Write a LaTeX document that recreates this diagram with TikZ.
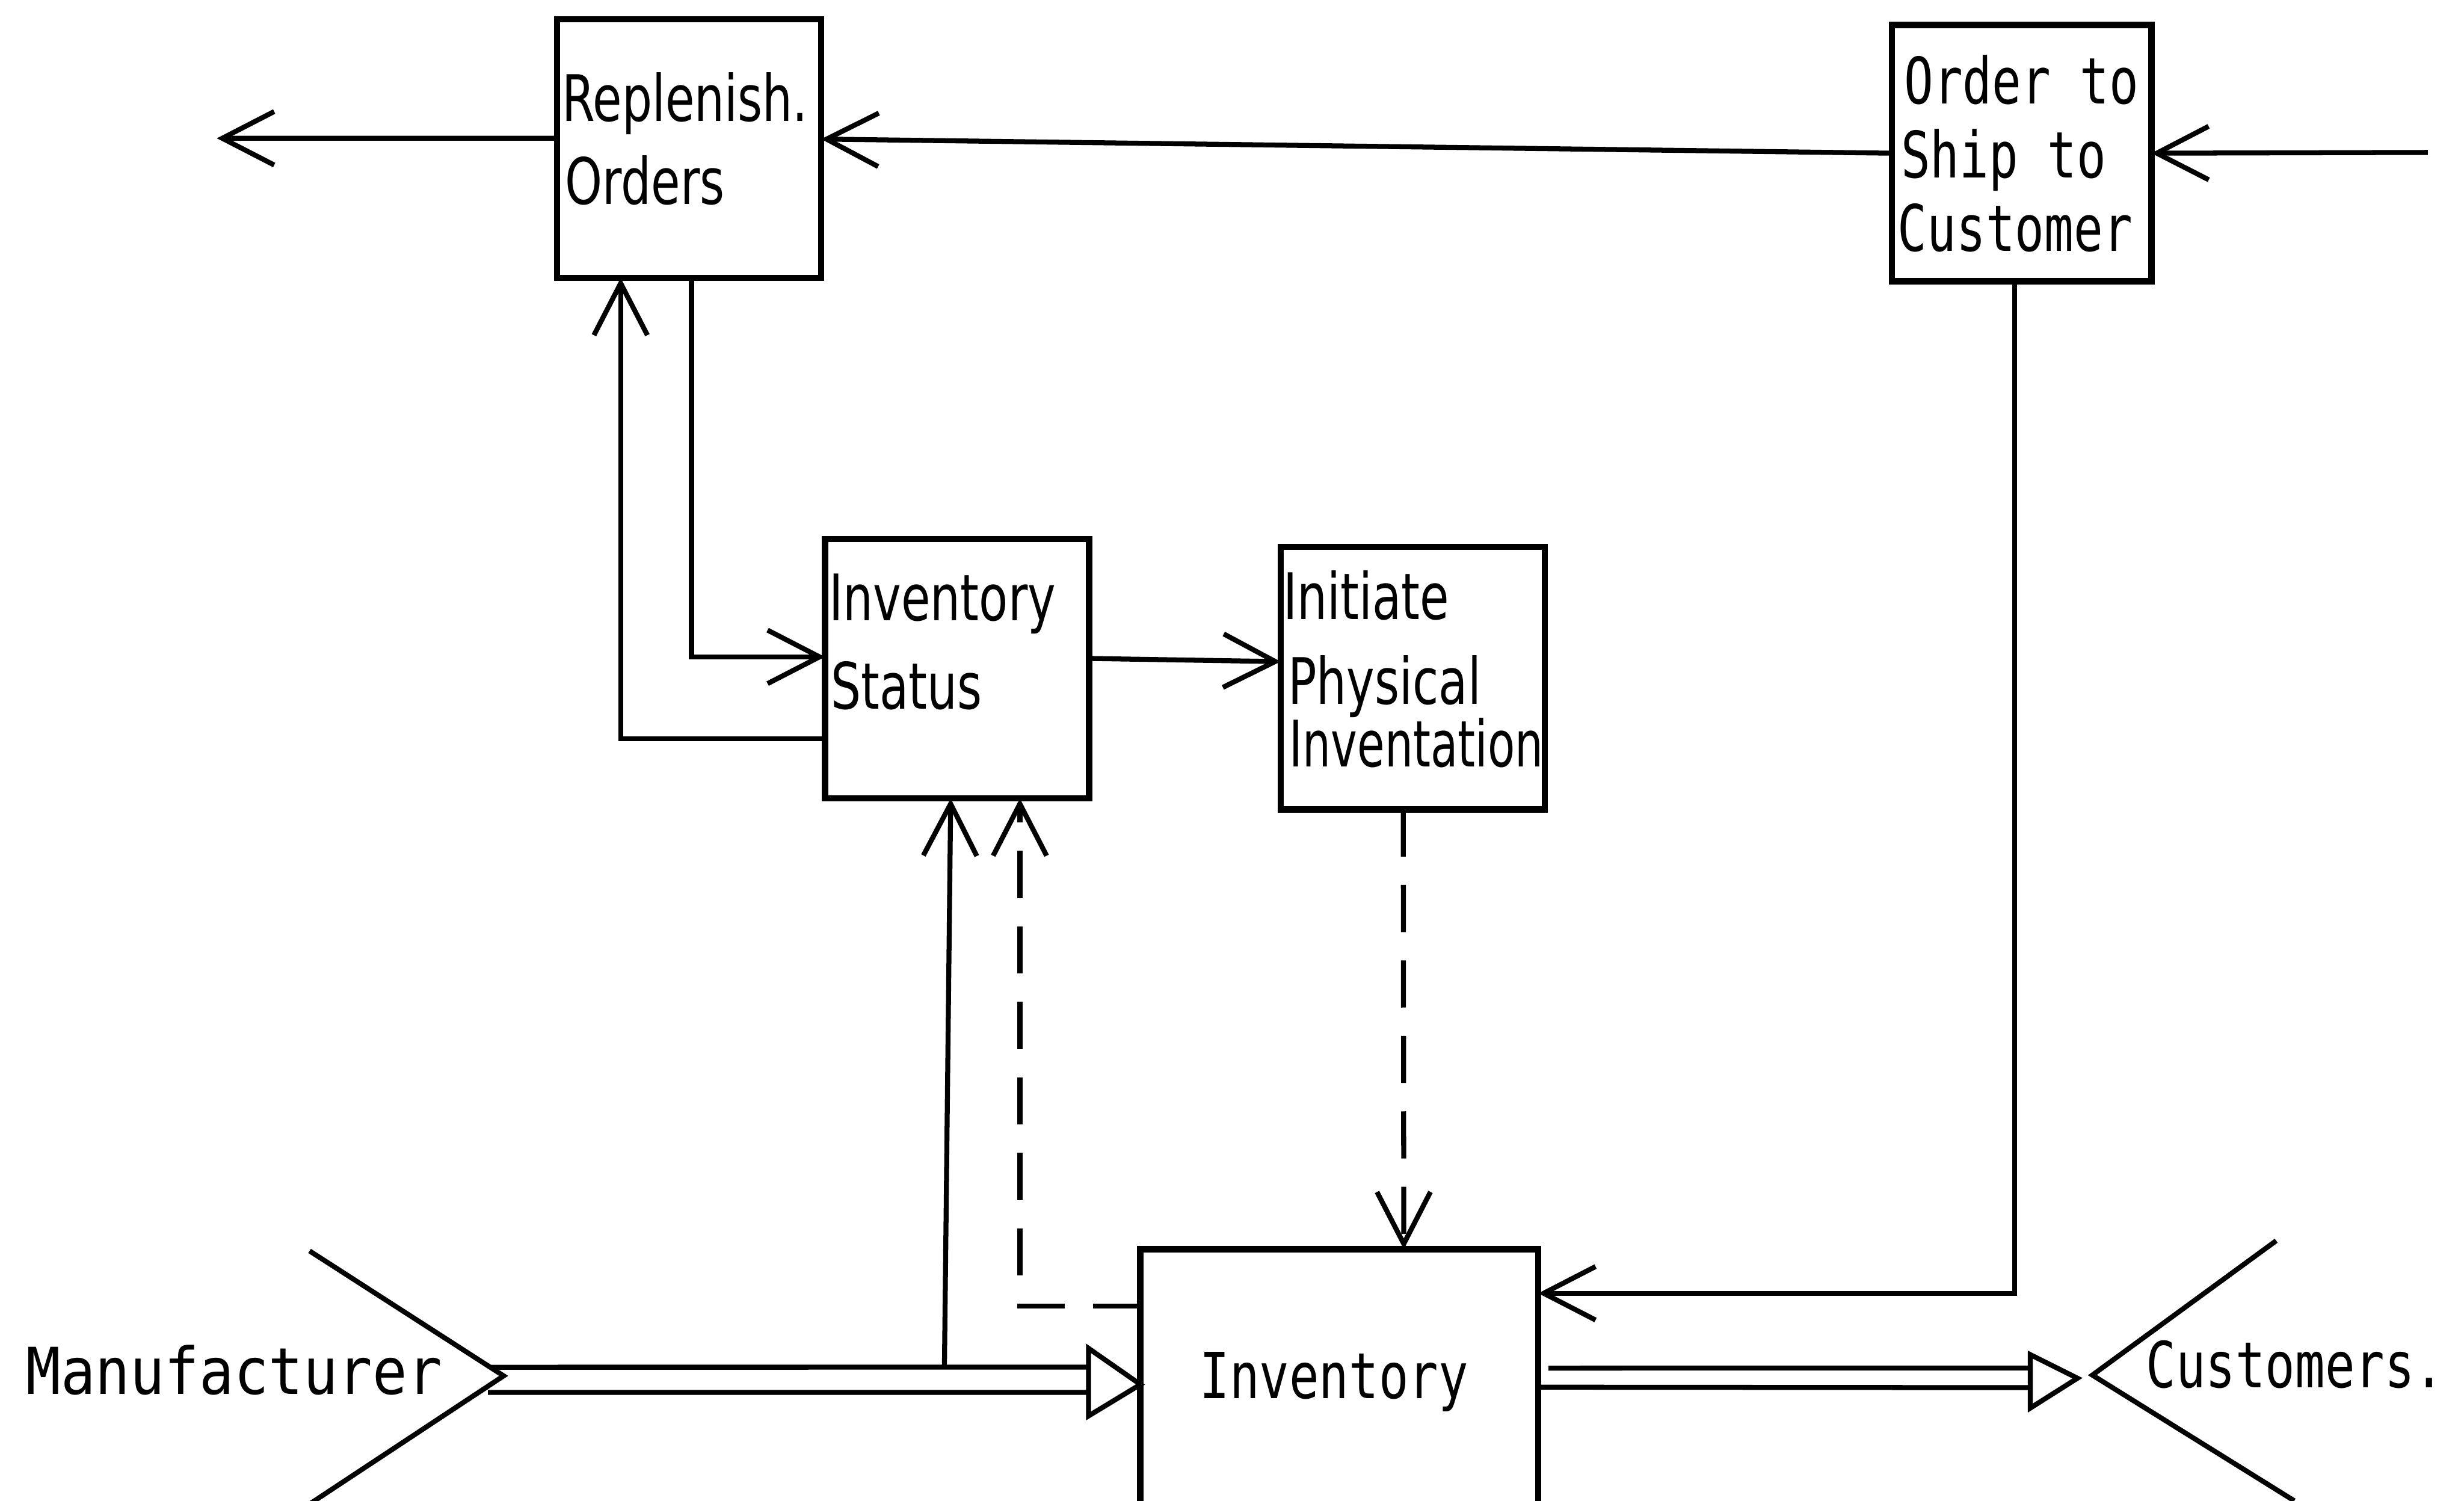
\documentclass[tikz,border=0pt]{standalone}
\usepackage{fontspec}
\setmainfont[FakeStretch=0.74]{DejaVu Sans}
\newfontfamily\narrowfont[FakeStretch=0.695]{DejaVu Sans}
\newfontfamily\manfont[FakeStretch=0.89]{DejaVu Sans Mono}
\newfontfamily\botfont[FakeStretch=0.78]{DejaVu Sans Mono}
\newfontfamily\ordfont[FakeStretch=0.76]{DejaVu Sans Mono}
\usetikzlibrary{arrows.meta,calc}
\begin{document}
\begin{tikzpicture}[x=0.01cm,y=-0.01cm,
  box/.style={draw, line width=1.15pt, inner sep=0pt, outer sep=0pt, rectangle},
  lbl/.style={inner sep=0pt, anchor=base west, font=\fontsize{11.6}{13}\selectfont},
  ordlbl/.style={inner sep=0pt, anchor=base west, font=\ordfont\fontsize{11.6}{13}\selectfont},
  botlbl/.style={inner sep=0pt, font=\botfont\fontsize{11.5}{13}\selectfont},
  con/.style={line width=0.9pt},
  arr/.style={con, -{Straight Barb[length=0.33cm,width=0.34cm,line width=0.9pt]}},
  dsh/.style={dash pattern=on 0.3cm off 0.18cm},
]
\useasboundingbox (0,0) rectangle (1568,955);
\clip (0,0) rectangle (1568,955);

% boxes
\node[box, minimum width=1.68cm, minimum height=1.645cm] (repl) at (438.5,94.5) {};
\node[box, minimum width=1.65cm, minimum height=1.63cm] (order) at (1286.5,97.5) {};
\node[box, minimum width=1.68cm, minimum height=1.65cm] (stat) at (609,425.5) {};
\node[box, minimum width=1.68cm, minimum height=1.67cm] (init) at (899,431.5) {};
\node[box, minimum width=2.53cm, minimum height=2.3cm] (inv) at (852.3,910) {};

% box texts
\node[lbl] (replt1) at (357,77) {Replenish.};
\node[lbl] (replt2) at (359,130) {Orders};
\node[ordlbl] (ordt1) at (1211,66) {Order to};
\node[ordlbl] (ordt2) at (1209,113) {Ship to};
\node[ordlbl] (ordt3) at (1207,160) {Customer};
\node[lbl] (statt1) at (527,395) {Inventory};
\node[lbl] (statt2) at (528,451) {Status};
\node[lbl] (initt1) at (816,394) {Initiate};
\node[lbl] (initt2) at (819,448) {Physical};
\node[lbl, font=\narrowfont\fontsize{11.6}{13}\selectfont] (initt3) at (820,488) {Inventation};
\node[botlbl, anchor=base] (invt) at (849,890) {Inventory};
\node[inner sep=0pt, anchor=base west, font=\manfont\fontsize{11.7}{13}\selectfont] (manut) at (16,887) {Manufacturer};
\node[botlbl, anchor=base west] (custt) at (1365,883) {Customers.};

% top row
\coordinate (inR) at (1545,97);
\coordinate (outL) at (138,88);
\draw[arr] (inR) -- (order.east);
\draw[arr] (order.west) -- ([yshift=0.06cm]repl.east);
\draw[arr] ([yshift=0.065cm]repl.west) -- (outL);

% replenish <-> status
\draw[arr] ([xshift=0.015cm]repl.south) |- ([yshift=0.075cm]stat.west);
\draw[arr] ([yshift=-0.445cm]stat.west) -| ([xshift=-0.435cm]repl.south);

% status -> initiate
\draw[arr] ([yshift=0.065cm]stat.east) -- ([yshift=0.105cm]init.west);

% initiate -> inventory (dashed)
\draw[arr, dsh] ([xshift=-0.06cm]init.south) -- ([xshift=0.41cm]inv.north);

% order -> inventory
\draw[arr] ([xshift=-0.045cm]order.south) |- ([yshift=0.87cm]inv.east);

% inventory -> status (dashed)
\draw[arr, dsh] ([yshift=0.79cm]inv.west) -| ([xshift=0.4cm]stat.south);

% flow -> status
\coordinate (j1) at (601,870);
\draw[arr] (j1) -- ([xshift=-0.04cm]stat.south);

% Manufacturer chevron
\coordinate (mtop) at (197,796);
\coordinate (mv) at (320.5,875.5);
\coordinate (mbot) at (185,965);
\draw[con] (mtop) -- (mv) -- (mbot);

% hollow double arrow Manufacturer -> Inventory
\coordinate (mtip) at ([yshift=0.29cm]inv.west);
\draw[con] ($(mv)+(-8,-5.5)$) -- ($(mtip)+(-33,-11)$);
\draw[con] ($(mv)+(-10,10.5)$) -- ($(mtip)+(-33,5)$);
\draw[con, line join=miter] (mtip) -- ($(mtip)+(-33,-23)$) -- ($(mtip)+(-33,20)$) -- cycle;

% Customers chevron
\coordinate (ctop) at (1448.5,789.5);
\coordinate (cv) at (1331.5,875);
\coordinate (cbot) at (1460,955);
\draw[con] (ctop) -- (cv) -- (cbot);

% hollow double arrow Inventory -> Customers
\coordinate (ctip) at (1322,877);
\draw[con] ([xshift=0.065cm, yshift=0.394cm]inv.east) -- ($(ctip)+(-30,-6.5)$);
\draw[con] ([yshift=0.273cm]inv.east) -- ($(ctip)+(-30,6)$);
\draw[con, line join=miter] (ctip) -- ($(ctip)+(-30,-15)$) -- ($(ctip)+(-30,19)$) -- cycle;
\end{tikzpicture}
\end{document}
